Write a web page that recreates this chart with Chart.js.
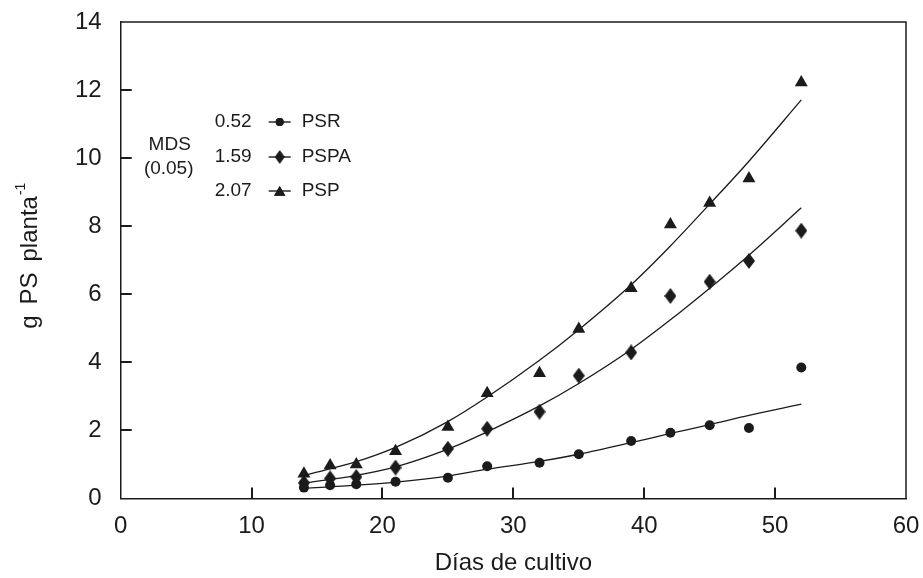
<!DOCTYPE html>
<html>
<head>
<meta charset="utf-8">
<script src="https://cdn.jsdelivr.net/npm/chart.js@4/dist/chart.umd.min.js"></script>
<style>
  html, body { margin: 0; padding: 0; background: #ffffff; }
  #wrap { width: 923px; height: 578px; }
</style>
</head>
<body>
<div id="wrap"><canvas id="c" width="923" height="578"></canvas></div>
<script>
// Sampling days (días de cultivo)
const days = [14, 16, 18, 21, 25, 28, 32, 35, 39, 42, 45, 48, 52];

// Dry weight per plant (g PS planta-1)
const psr  = [0.32, 0.39, 0.42, 0.49, 0.61, 0.95, 1.05, 1.30, 1.69, 1.93, 2.15, 2.07, 3.85];
const pspa = [0.46, 0.59, 0.63, 0.91, 1.46, 2.05, 2.55, 3.61, 4.29, 5.95, 6.37, 6.98, 7.87];
const psp  = [0.73, 0.97, 1.00, 1.39, 2.10, 3.09, 3.68, 4.98, 6.18, 8.05, 8.68, 9.40, 12.22];

// Fitted growth curves, sampled along the day axis
const fitDays = [14, 18, 21, 25, 28, 32, 35, 39, 42, 45, 48, 52];
const psrFit  = [0.30, 0.39, 0.48, 0.66, 0.86, 1.09, 1.30, 1.64, 1.91, 2.17, 2.44, 2.77];
const pspaFit = [0.45, 0.68, 0.93, 1.45, 1.96, 2.72, 3.38, 4.38, 5.25, 6.18, 7.15, 8.54];
const pspFit  = [0.68, 1.08, 1.50, 2.26, 2.98, 4.06, 4.96, 6.28, 7.42, 8.65, 9.91, 11.71];

// Legend: least significant difference (MDS, 0.05) per series
const seriesNames = ['PSR', 'PSPA', 'PSP'];
const mdsValues = ['0.52', '1.59', '2.07'];

// Axis ticks
const xTicks = [0, 10, 20, 30, 40, 50, 60];
const yTicks = [0, 2, 4, 6, 8, 10, 12, 14];

const INK = '#1b1b1b';
const FONT = '"Liberation Sans", Arial, Helvetica, sans-serif';

// Tall diamond marker
function makeDiamond(w, h) {
  const cv = document.createElement('canvas');
  cv.width = w; cv.height = h;
  const g = cv.getContext('2d');
  g.fillStyle = INK;
  g.beginPath();
  g.moveTo(w / 2, 0);
  g.lineTo(w, h / 2);
  g.lineTo(w / 2, h);
  g.lineTo(0, h / 2);
  g.closePath();
  g.fill();
  return cv;
}
const diamond = makeDiamond(12, 16);
const diamondSmall = makeDiamond(10, 14);

const pts = (xs, ys) => xs.map((x, i) => ({ x: x, y: ys[i] }));

const markerStyles = [
  { pointStyle: 'circle', pointRadius: 5 },
  { pointStyle: diamond, pointRadius: 7 },
  { pointStyle: 'triangle', pointRadius: 7.5 }
];

function fitSet(data) {
  return {
    data: data, showLine: true, borderColor: INK, borderWidth: 1.3,
    pointRadius: 0, pointHoverRadius: 0, cubicInterpolationMode: 'monotone', fill: false
  };
}
function markSet(data, m) {
  return {
    data: data, showLine: false, backgroundColor: INK, borderColor: INK,
    borderWidth: 0, pointStyle: m.pointStyle, pointRadius: m.pointRadius, pointHoverRadius: m.pointRadius
  };
}

// Frame, inward ticks, MDS legend and y-axis title
const decorations = {
  id: 'decorations',
  afterDraw(chart) {
    const ctx = chart.ctx;
    const a = chart.chartArea;
    const xs = chart.scales.x, ys = chart.scales.y;
    ctx.save();
    ctx.strokeStyle = INK;
    ctx.fillStyle = INK;
    ctx.lineWidth = 1.5;
    // top and right sides of the frame
    ctx.beginPath();
    ctx.moveTo(a.left, a.top);
    ctx.lineTo(a.right, a.top);
    ctx.lineTo(a.right, a.bottom);
    ctx.stroke();
    // inward tick marks
    xTicks.slice(1, xTicks.length - 1).forEach(v => {
      const px = Math.round(xs.getPixelForValue(v));
      ctx.fillRect(px - 1, a.bottom - 11, 2, 11);
    });
    yTicks.slice(1, yTicks.length - 1).forEach(v => {
      const py = Math.round(ys.getPixelForValue(v));
      ctx.fillRect(a.left, py - 1, 11, 2);
    });

    // MDS legend
    ctx.font = '19px ' + FONT;
    ctx.textBaseline = 'middle';
    ctx.textAlign = 'center';
    ctx.fillText('MDS', a.left + 49, a.top + 123);
    ctx.fillText('(0.05)', a.left + 48, a.top + 147);
    const rowY = [a.top + 100, a.top + 135, a.top + 169];
    const legendMarks = ['circle', diamondSmall, 'triangle'];
    const legendSize = [4, 6, 6.5];
    seriesNames.forEach((name, i) => {
      const y = rowY[i];
      ctx.textAlign = 'left';
      ctx.fillText(mdsValues[i], a.left + 94, y);
      ctx.fillText(name, a.left + 181, y);
      ctx.lineWidth = 1.4;
      ctx.beginPath();
      ctx.moveTo(a.left + 148, y);
      ctx.lineTo(a.left + 170, y);
      ctx.stroke();
      Chart.helpers.drawPoint(ctx, { pointStyle: legendMarks[i], radius: legendSize[i], rotation: 0, borderWidth: 0 },
        a.left + 159, y + (i === 2 ? 1.5 : 0));
      ctx.fill();
    });

    // y-axis title with superscript
    ctx.translate(30, (a.top + a.bottom) / 2 - 4);
    ctx.rotate(-Math.PI / 2);
    ctx.textAlign = 'left';
    ctx.textBaseline = 'middle';
    const words = ['g', 'PS', 'planta'];
    const gap = 11;
    ctx.font = '24px ' + FONT;
    const widths = words.map(w => ctx.measureText(w).width);
    const wMain = widths.reduce((s, w) => s + w, 0) + gap * (words.length - 1);
    ctx.font = '14px ' + FONT;
    const sup = '-1';
    const wSup = ctx.measureText(sup).width;
    let x = -(wMain + wSup) / 2;
    ctx.font = '24px ' + FONT;
    words.forEach((w, i) => {
      ctx.fillText(w, x, 0);
      x += widths[i] + gap;
    });
    x -= gap;
    ctx.font = '14px ' + FONT;
    ctx.fillText(sup, x + 1, -9);
    ctx.restore();
  }
};

// Keep tick-label overflow from pushing the plot area inward
function trimX(s) { s.paddingLeft = 0; s.paddingRight = 0; s.height = 79.5; }
function trimY(s) { s.paddingTop = 0; s.paddingBottom = 0; }

new Chart(document.getElementById('c'), {
  type: 'scatter',
  data: {
    // markers first so they are painted over the fitted curves
    datasets: [
      markSet(pts(days, psr), markerStyles[0]),
      markSet(pts(days, pspa), markerStyles[1]),
      markSet(pts(days, psp), markerStyles[2]),
      fitSet(pts(fitDays, psrFit)),
      fitSet(pts(fitDays, pspaFit)),
      fitSet(pts(fitDays, pspFit))
    ]
  },
  options: {
    responsive: false,
    animation: false,
    devicePixelRatio: 1,
    layout: { autoPadding: false, padding: { left: 56, right: 17, top: 22, bottom: 0 } },
    plugins: { legend: { display: false }, tooltip: { enabled: false } },
    scales: {
      x: {
        type: 'linear', min: 0, max: 60,
        afterBuildTicks: s => { s.ticks = xTicks.map(v => ({ value: v })); },
        afterFit: trimX,
        ticks: { color: INK, font: { family: FONT, size: 24 }, padding: 13 },
        grid: { display: false, drawTicks: false },
        border: { display: true, color: INK, width: 1.5 },
        title: { display: true, text: 'Días de cultivo', color: INK,
                 font: { family: FONT, size: 24 }, padding: { top: 8, bottom: 0 } }
      },
      y: {
        type: 'linear', min: 0, max: 14,
        afterBuildTicks: s => { s.ticks = yTicks.map(v => ({ value: v })); },
        afterFit: trimY,
        ticks: { color: INK, font: { family: FONT, size: 24 }, padding: 19 },
        grid: { display: false, drawTicks: false },
        border: { display: true, color: INK, width: 1.5 }
      }
    }
  },
  plugins: [decorations]
});
</script>
</body>
</html>
